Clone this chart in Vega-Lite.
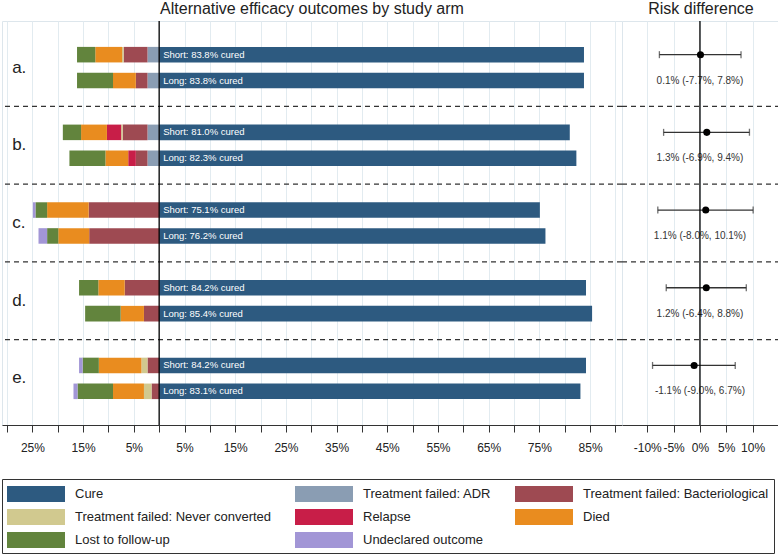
{
  "$schema": "https://vega.github.io/schema/vega-lite/v6.json",
  "padding": 0,
  "background": "white",
  "spacing": 0,
  "bounds": "flush",
  "config": {
    "font": "Liberation Sans",
    "view": {"stroke": "#dde6ec"},
    "title": {"fontSize": 16, "fontWeight": "normal", "color": "#222", "offset": 3},
    "axis": {
      "domainColor": "#333",
      "tickColor": "#333",
      "tickSize": 7,
      "labelFontSize": 12,
      "labelColor": "#222",
      "labelPadding": 10,
      "gridColor": "#e2ebf0",
      "labelOverlap": false,
      "title": null
    },
    "legend": {
      "title": null,
      "orient": "none",
      "legendX": 0,
      "legendY": 458,
      "columns": 3,
      "direction": "horizontal",
      "symbolType": "M-1,-0.8H4.8V0.8H-1Z",
      "symbolSize": 400,
      "symbolStrokeWidth": 0,
      "symbolOpacity": 1,
      "labelOffset": 48,
      "labelFontSize": 13,
      "labelColor": "#222",
      "labelLimit": 300,
      "columnPadding": 23,
      "rowPadding": 5,
      "padding": 5,
      "strokeColor": "#333",
      "fillColor": "white"
    }
  },
  "datasets": {
    "outcomes": [
      {"group": "a", "arm": "Short", "outcome": "Cure", "pct": 83.8},
      {"group": "a", "arm": "Short", "outcome": "Treatment failed: ADR", "pct": 2.3},
      {"group": "a", "arm": "Short", "outcome": "Treatment failed: Bacteriological", "pct": 4.7},
      {"group": "a", "arm": "Short", "outcome": "Treatment failed: Never converted", "pct": 0.3},
      {"group": "a", "arm": "Short", "outcome": "Died", "pct": 5.3},
      {"group": "a", "arm": "Short", "outcome": "Lost to follow-up", "pct": 3.6},
      {"group": "a", "arm": "Long", "outcome": "Cure", "pct": 83.8},
      {"group": "a", "arm": "Long", "outcome": "Treatment failed: ADR", "pct": 2.3},
      {"group": "a", "arm": "Long", "outcome": "Treatment failed: Bacteriological", "pct": 2.3},
      {"group": "a", "arm": "Long", "outcome": "Died", "pct": 4.5},
      {"group": "a", "arm": "Long", "outcome": "Lost to follow-up", "pct": 7.1},
      {"group": "b", "arm": "Short", "outcome": "Cure", "pct": 81.0},
      {"group": "b", "arm": "Short", "outcome": "Treatment failed: ADR", "pct": 2.3},
      {"group": "b", "arm": "Short", "outcome": "Treatment failed: Bacteriological", "pct": 4.9},
      {"group": "b", "arm": "Short", "outcome": "Treatment failed: Never converted", "pct": 0.3},
      {"group": "b", "arm": "Short", "outcome": "Relapse", "pct": 2.8},
      {"group": "b", "arm": "Short", "outcome": "Died", "pct": 5.1},
      {"group": "b", "arm": "Short", "outcome": "Lost to follow-up", "pct": 3.6},
      {"group": "b", "arm": "Long", "outcome": "Cure", "pct": 82.3},
      {"group": "b", "arm": "Long", "outcome": "Treatment failed: ADR", "pct": 2.3},
      {"group": "b", "arm": "Long", "outcome": "Treatment failed: Bacteriological", "pct": 2.3},
      {"group": "b", "arm": "Long", "outcome": "Relapse", "pct": 1.5},
      {"group": "b", "arm": "Long", "outcome": "Died", "pct": 4.5},
      {"group": "b", "arm": "Long", "outcome": "Lost to follow-up", "pct": 7.1},
      {"group": "c", "arm": "Short", "outcome": "Cure", "pct": 75.1},
      {"group": "c", "arm": "Short", "outcome": "Treatment failed: Bacteriological", "pct": 13.9},
      {"group": "c", "arm": "Short", "outcome": "Died", "pct": 8.2},
      {"group": "c", "arm": "Short", "outcome": "Lost to follow-up", "pct": 2.3},
      {"group": "c", "arm": "Short", "outcome": "Undeclared outcome", "pct": 0.5},
      {"group": "c", "arm": "Long", "outcome": "Cure", "pct": 76.2},
      {"group": "c", "arm": "Long", "outcome": "Treatment failed: Bacteriological", "pct": 13.8},
      {"group": "c", "arm": "Long", "outcome": "Died", "pct": 6.1},
      {"group": "c", "arm": "Long", "outcome": "Lost to follow-up", "pct": 2.2},
      {"group": "c", "arm": "Long", "outcome": "Undeclared outcome", "pct": 1.7},
      {"group": "d", "arm": "Short", "outcome": "Cure", "pct": 84.2},
      {"group": "d", "arm": "Short", "outcome": "Treatment failed: Bacteriological", "pct": 6.8},
      {"group": "d", "arm": "Short", "outcome": "Died", "pct": 5.2},
      {"group": "d", "arm": "Short", "outcome": "Lost to follow-up", "pct": 3.8},
      {"group": "d", "arm": "Long", "outcome": "Cure", "pct": 85.4},
      {"group": "d", "arm": "Long", "outcome": "Treatment failed: Bacteriological", "pct": 3.0},
      {"group": "d", "arm": "Long", "outcome": "Died", "pct": 4.6},
      {"group": "d", "arm": "Long", "outcome": "Lost to follow-up", "pct": 7.0},
      {"group": "e", "arm": "Short", "outcome": "Cure", "pct": 84.2},
      {"group": "e", "arm": "Short", "outcome": "Treatment failed: Bacteriological", "pct": 2.3},
      {"group": "e", "arm": "Short", "outcome": "Treatment failed: Never converted", "pct": 1.2},
      {"group": "e", "arm": "Short", "outcome": "Died", "pct": 8.4},
      {"group": "e", "arm": "Short", "outcome": "Lost to follow-up", "pct": 3.2},
      {"group": "e", "arm": "Short", "outcome": "Undeclared outcome", "pct": 0.7},
      {"group": "e", "arm": "Long", "outcome": "Cure", "pct": 83.1},
      {"group": "e", "arm": "Long", "outcome": "Treatment failed: Bacteriological", "pct": 1.5},
      {"group": "e", "arm": "Long", "outcome": "Treatment failed: Never converted", "pct": 1.5},
      {"group": "e", "arm": "Long", "outcome": "Died", "pct": 6.1},
      {"group": "e", "arm": "Long", "outcome": "Lost to follow-up", "pct": 7.0},
      {"group": "e", "arm": "Long", "outcome": "Undeclared outcome", "pct": 0.8}
    ],
    "rd": [
      {"group": "a", "rd": 0.1, "lo": -7.7, "hi": 7.8},
      {"group": "b", "rd": 1.3, "lo": -6.9, "hi": 9.4},
      {"group": "c", "rd": 1.1, "lo": -8.0, "hi": 10.1},
      {"group": "d", "rd": 1.2, "lo": -6.4, "hi": 8.8},
      {"group": "e", "rd": -1.1, "lo": -9.0, "hi": 6.7}
    ],
    "seps": [
      {"row": "ab"}, {"row": "bc"}, {"row": "cd"}, {"row": "de"}
    ],
    "zero": [{"x": 0}]
  },
  "hconcat": [
    {
      "width": 620,
      "height": 404,
      "title": {"text": "Alternative efficacy outcomes by study arm"},
      "layer": [
        {
          "data": {"name": "outcomes"},
          "transform": [
            {"calculate": "datum.outcome === 'Cure' ? datum.pct : -datum.pct", "as": "signed"},
            {"calculate": "indexof(['Cure','Treatment failed: ADR','Treatment failed: Bacteriological','Treatment failed: Never converted','Relapse','Died','Lost to follow-up','Undeclared outcome'], datum.outcome)", "as": "ord"},
            {"calculate": "datum.group + '.' + datum.arm", "as": "row"}
          ],
          "mark": {"type": "bar"},
          "encoding": {
            "y": {
              "field": "row", "type": "nominal",
              "scale": {"domain": ["a.Short","a.Long","ab","b.Short","b.Long","bc","c.Short","c.Long","cd","d.Short","d.Long","de","e.Short","e.Long"], "paddingInner": 0.4, "paddingOuter": 1.03},
              "axis": null
            },
            "x": {
              "field": "signed", "type": "quantitative", "stack": "zero",
              "scale": {"domain": [-31.0, 91.3], "nice": false, "zero": false},
              "axis": {
                "values": [-30,-25,-20,-15,-10,-5,0,5,10,15,20,25,30,35,40,45,50,55,60,65,70,75,80,85,90],
                "labelExpr": "abs(datum.value) % 10 == 5 ? abs(datum.value) + '%' : ''",
                "grid": true
              }
            },
            "color": {
              "field": "outcome", "type": "nominal",
              "scale": {
                "domain": ["Cure","Treatment failed: ADR","Treatment failed: Bacteriological","Treatment failed: Never converted","Relapse","Died","Lost to follow-up","Undeclared outcome"],
                "range": ["#2d5a80","#8a9db3","#9e4a52","#d1c98f","#c81e48","#e98c1f","#62843d","#a296d6"]
              }
            },
            "order": {"field": "ord"}
          }
        },
        {
          "data": {"name": "outcomes"},
          "transform": [
            {"filter": "datum.outcome === 'Cure'"},
            {"calculate": "datum.group + '.' + datum.arm", "as": "row"},
            {"calculate": "datum.arm + ': ' + format(datum.pct, '.1f') + '% cured'", "as": "label"}
          ],
          "mark": {"type": "text", "align": "left", "baseline": "middle", "dx": 4, "fontSize": 9.5, "color": "white"},
          "encoding": {
            "y": {"field": "row", "type": "nominal"},
            "x": {"datum": 0, "type": "quantitative",
              "axis": {
                "values": [-30,-25,-20,-15,-10,-5,0,5,10,15,20,25,30,35,40,45,50,55,60,65,70,75,80,85,90],
                "labelExpr": "abs(datum.value) % 10 == 5 ? abs(datum.value) + '%' : ''",
                "grid": true
              }
            },
            "text": {"field": "label"}
          }
        },
        {
          "data": {"name": "rd"},
          "transform": [
            {"calculate": "datum.group + '.Short'", "as": "row"},
            {"calculate": "datum.group + '.'", "as": "glabel"}
          ],
          "mark": {"type": "text", "align": "left", "baseline": "middle", "dy": 13, "fontSize": 17, "color": "#222"},
          "encoding": {
            "y": {"field": "row", "type": "nominal"},
            "x": {"datum": -29.0, "type": "quantitative",
              "axis": {
                "values": [-30,-25,-20,-15,-10,-5,0,5,10,15,20,25,30,35,40,45,50,55,60,65,70,75,80,85,90],
                "labelExpr": "abs(datum.value) % 10 == 5 ? abs(datum.value) + '%' : ''",
                "grid": true
              }
            },
            "text": {"field": "glabel"}
          }
        },
        {
          "data": {"name": "seps"},
          "mark": {"type": "rule", "color": "#333", "strokeWidth": 1.2, "strokeDash": [5, 4]},
          "encoding": {"y": {"field": "row", "type": "nominal"}}
        },
        {
          "data": {"name": "zero"},
          "mark": {"type": "rule", "color": "black", "strokeWidth": 1.3},
          "encoding": {
            "x": {"field": "x", "type": "quantitative",
              "axis": {
                "values": [-30,-25,-20,-15,-10,-5,0,5,10,15,20,25,30,35,40,45,50,55,60,65,70,75,80,85,90],
                "labelExpr": "abs(datum.value) % 10 == 5 ? abs(datum.value) + '%' : ''",
                "grid": true
              }
            }
          }
        }
      ]
    },
    {
      "width": 158,
      "height": 404,
      "title": {"text": "Risk difference"},
      "layer": [
        {
          "data": {"name": "rd"},
          "transform": [{"calculate": "datum.group + '.Short'", "as": "row"}],
          "mark": {"type": "rule", "color": "#333", "strokeWidth": 1.3},
          "encoding": {
            "y": {
              "field": "row", "type": "nominal",
              "scale": {"domain": ["a.Short","a.Long","ab","b.Short","b.Long","bc","c.Short","c.Long","cd","d.Short","d.Long","de","e.Short","e.Long"], "paddingInner": 0.4, "paddingOuter": 1.03},
              "axis": null
            },
            "x": {
              "field": "lo", "type": "quantitative",
              "scale": {"domain": [-14.8, 15.2], "nice": false, "zero": false},
              "axis": {
                "values": [-10,-5,0,5,10,15],
                "labelExpr": "abs(datum.value) == 15 ? '' : datum.value + '%'",
                "grid": true
              }
            },
            "x2": {"field": "hi"}
          }
        },
        {
          "data": {"name": "rd"},
          "transform": [{"calculate": "datum.group + '.Short'", "as": "row"}],
          "mark": {"type": "tick", "color": "#333", "size": 7, "thickness": 1.3},
          "encoding": {
            "y": {"field": "row", "type": "nominal"},
            "x": {"field": "lo", "type": "quantitative",
              "axis": {
                "values": [-10,-5,0,5,10,15],
                "labelExpr": "abs(datum.value) == 15 ? '' : datum.value + '%'",
                "grid": true
              }
            }
          }
        },
        {
          "data": {"name": "rd"},
          "transform": [{"calculate": "datum.group + '.Short'", "as": "row"}],
          "mark": {"type": "tick", "color": "#333", "size": 7, "thickness": 1.3},
          "encoding": {
            "y": {"field": "row", "type": "nominal"},
            "x": {"field": "hi", "type": "quantitative",
              "axis": {
                "values": [-10,-5,0,5,10,15],
                "labelExpr": "abs(datum.value) == 15 ? '' : datum.value + '%'",
                "grid": true
              }
            }
          }
        },
        {
          "data": {"name": "rd"},
          "transform": [{"calculate": "datum.group + '.Short'", "as": "row"}],
          "mark": {"type": "point", "filled": true, "color": "black", "size": 50, "opacity": 1},
          "encoding": {
            "y": {"field": "row", "type": "nominal"},
            "x": {"field": "rd", "type": "quantitative",
              "axis": {
                "values": [-10,-5,0,5,10,15],
                "labelExpr": "abs(datum.value) == 15 ? '' : datum.value + '%'",
                "grid": true
              }
            }
          }
        },
        {
          "data": {"name": "rd"},
          "transform": [
            {"calculate": "datum.group + '.Long'", "as": "row"},
            {"calculate": "replace(replace(replace(format(datum.rd, '.1f') + '% (' + format(datum.lo, '.1f') + '%, ' + format(datum.hi, '.1f') + '%)', '\u2212', '-'), '\u2212', '-'), '\u2212', '-')", "as": "label"}
          ],
          "mark": {"type": "text", "align": "center", "baseline": "middle", "fontSize": 10, "color": "#333"},
          "encoding": {
            "y": {"field": "row", "type": "nominal"},
            "x": {"datum": 0, "type": "quantitative",
              "axis": {
                "values": [-10,-5,0,5,10,15],
                "labelExpr": "abs(datum.value) == 15 ? '' : datum.value + '%'",
                "grid": true
              }
            },
            "text": {"field": "label"}
          }
        },
        {
          "data": {"name": "seps"},
          "mark": {"type": "rule", "color": "#333", "strokeWidth": 1.2, "strokeDash": [5, 4]},
          "encoding": {"y": {"field": "row", "type": "nominal"}}
        },
        {
          "data": {"name": "zero"},
          "mark": {"type": "rule", "color": "black", "strokeWidth": 1.3},
          "encoding": {
            "x": {"field": "x", "type": "quantitative",
              "axis": {
                "values": [-10,-5,0,5,10,15],
                "labelExpr": "abs(datum.value) == 15 ? '' : datum.value + '%'",
                "grid": true
              }
            }
          }
        }
      ]
    }
  ],
  "resolve": {"scale": {"x": "independent", "y": "independent"}}
}
